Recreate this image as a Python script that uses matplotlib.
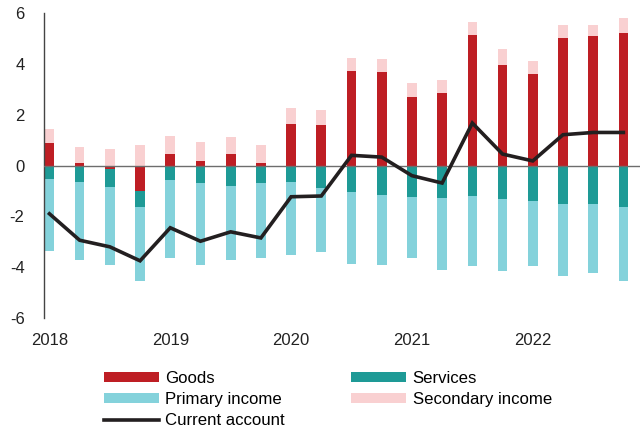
import matplotlib
matplotlib.use("Agg")
import matplotlib.pyplot as plt
import numpy as np

plt.rcParams['font.family'] = ['Liberation Sans', 'DejaVu Sans']
plt.rcParams['axes.unicode_minus'] = False

quarters = ["2018Q1", "2018Q2", "2018Q3", "2018Q4", "2019Q1", "2019Q2", "2019Q3", "2019Q4",
            "2020Q1", "2020Q2", "2020Q3", "2020Q4", "2021Q1", "2021Q2", "2021Q3", "2021Q4",
            "2022Q1", "2022Q2", "2022Q3", "2022Q4"]
goods = [0.88, 0.11, -0.13, -0.99, 0.46, 0.18, 0.46, 0.08, 1.65, 1.58,
         3.72, 3.66, 2.71, 2.87, 5.14, 3.94, 3.60, 5.01, 5.10, 5.20]
services = [-0.53, -0.65, -0.71, -0.64, -0.58, -0.69, -0.80, -0.70, -0.65, -0.88,
            -1.05, -1.16, -1.24, -1.28, -1.20, -1.30, -1.41, -1.52, -1.52, -1.63]
primary_income = [-2.84, -3.07, -3.06, -2.92, -3.04, -3.22, -2.92, -2.94, -2.87, -2.52,
                  -2.82, -2.74, -2.41, -2.82, -2.77, -2.85, -2.53, -2.81, -2.71, -2.92]
secondary_income = [0.57, 0.63, 0.66, 0.79, 0.70, 0.74, 0.65, 0.71, 0.63, 0.62,
                    0.51, 0.52, 0.53, 0.51, 0.49, 0.63, 0.53, 0.51, 0.42, 0.62]
current_account = [-1.90, -2.94, -3.20, -3.75, -2.45, -2.98, -2.61, -2.85, -1.23, -1.20,
                   0.40, 0.33, -0.40, -0.69, 1.67, 0.45, 0.18, 1.21, 1.30, 1.30]
year_labels = ["2018", "2019", "2020", "2021", "2022"]

c_goods = "#BE1E24"
c_serv = "#1E9A96"
c_prim = "#84D2DB"
c_sec = "#F9D0D1"
c_line = "#231F20"

x = np.arange(len(quarters))
g = np.array(goods)
s = np.array(services)
p = np.array(primary_income)
si = np.array(secondary_income)

pos_base = np.zeros(len(x))
neg_base = np.zeros(len(x))

fig = plt.figure(figsize=(6.4, 4.28), dpi=100)
ax = fig.add_axes([44/640, 1 - 318/428, 1 - 44/640, (318 - 13)/428])

w = 0.32
gb = np.where(g >= 0, pos_base, neg_base)
ax.bar(x, g, w, bottom=gb, color=c_goods, label="Goods", zorder=2)
pos_base = pos_base + np.where(g > 0, g, 0)
neg_base = neg_base + np.where(g < 0, g, 0)
ax.bar(x, s, w, bottom=neg_base, color=c_serv, label="Services", zorder=2)
neg_base = neg_base + s
ax.bar(x, p, w, bottom=neg_base, color=c_prim, label="Primary income", zorder=2)
ax.bar(x, si, w, bottom=pos_base, color=c_sec, label="Secondary income", zorder=2)

ax.axhline(0, color="#6d6d6d", lw=1.0, zorder=3)
ax.plot(x, current_account, color=c_line, lw=2.6, label="Current account", zorder=4,
        solid_joinstyle="miter")

ax.set_ylim(-6, 6)
ax.set_xlim(-0.18, 19.55)
ax.set_yticks([-6, -4, -2, 0, 2, 4, 6])
ax.set_xticks(x[::4])
ax.set_xticklabels(year_labels)
for sp in ["top", "right", "bottom"]:
    ax.spines[sp].set_visible(False)
ax.spines["left"].set_color("#444444")
ax.spines["left"].set_linewidth(1.0)
ax.tick_params(axis="y", length=0, pad=14, labelsize=12, labelcolor="#222222")
ax.tick_params(axis="x", length=0, pad=11, labelsize=12, labelcolor="#222222")

handles, labels = ax.get_legend_handles_labels()
hmap = dict(zip(labels, handles))
order = ["Goods", "Primary income", "Current account", "Services", "Secondary income"]
fig.legend([hmap[k] for k in order], order, ncol=2, frameon=False,
           loc="upper left", bbox_to_anchor=(104/640, 1 - 371/428),
           fontsize=12.1, handlelength=3.25, handleheight=0.55,
           labelspacing=0.36, columnspacing=3.95, handletextpad=0.4,
           borderpad=0, borderaxespad=0)

fig.savefig("out.png", dpi=100)
